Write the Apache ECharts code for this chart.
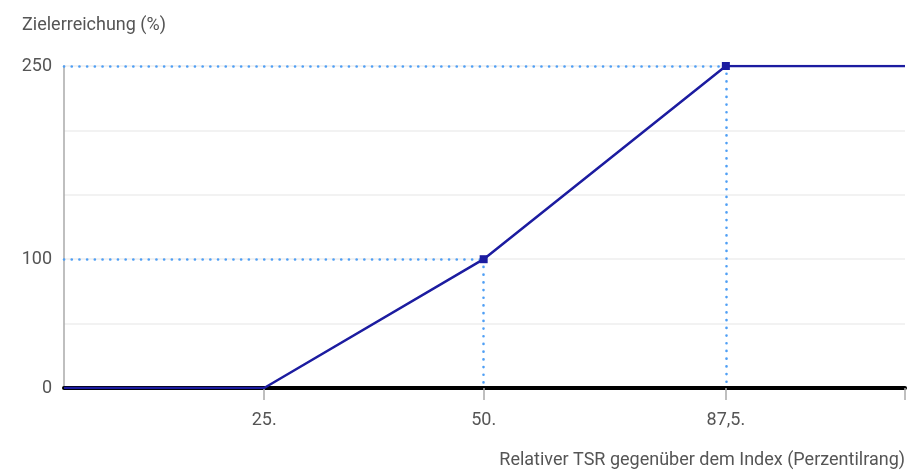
<!DOCTYPE html>
<html>
<head>
<meta charset="utf-8">
<script src="https://cdn.jsdelivr.net/npm/echarts@6/dist/echarts.min.js"></script>
<style>html,body{margin:0;padding:0;background:#fff}#c{width:914px;height:472px}</style>
</head>
<body>
<div id="c"></div>
<script>
// Schematic (non-linear) x positions of the curve's break points on the drawn axis (0..100)
const xPositions = [0, 23.8, 49.9, 78.7, 100];
// Percentile labels shown at those break points
const xTickLabels = ["", "25.", "50.", "87,5.", ""];
// Target achievement (%)
const yValues = [0, 0, 100, 250, 250];
// Which points carry a square marker
const markedPoints = [false, false, true, true, false];
const yTickLabels = [0, 100, 250];

const FONT = 'Roboto';
const lineColor = '#1c1ca0';
const dotColor = '#4f9ff5';

const seriesData = xPositions.map((x, i) => ({
  value: [x, yValues[i]],
  symbolSize: markedPoints[i] ? 8 : 0
}));

const guideLines = [];
xPositions.forEach((x, i) => {
  if (markedPoints[i]) {
    guideLines.push([{coord: [0, yValues[i]]}, {coord: [x, yValues[i]]}]);
    guideLines.push([{coord: [x, yValues[i]]}, {coord: [x, 0]}]);
  }
});

const labelPositions = xPositions.filter((x, i) => xTickLabels[i] !== "");
const tickPositions = xPositions.filter((x, i) => i > 0);

const chart = echarts.init(document.getElementById('c'), null, {renderer: 'canvas'});
chart.setOption({
  animation: false,
  title: {
    text: 'Zielerreichung (%)',
    left: 17, top: 11,
    textStyle: {fontFamily: FONT, fontSize: 18, fontWeight: 'normal', color: '#555'}
  },
  grid: {left: 64, right: 9, top: 66, bottom: 84},
  xAxis: {
    type: 'value', min: 0, max: 100,
    offset: 3,
    axisLine: {show: true, lineStyle: {color: '#000', width: 4}},
    axisTick: {show: true, customValues: tickPositions, length: 12, lineStyle: {color: '#aaa', width: 1.5}},
    axisLabel: {
      customValues: labelPositions,
      margin: 20,
      fontFamily: FONT, fontSize: 18, color: '#555',
      formatter: v => { const i = xPositions.indexOf(v); return i >= 0 ? xTickLabels[i] : ''; }
    },
    splitLine: {show: false},
    name: 'Relativer TSR gegenüber dem Index (Perzentilrang)',
    nameLocation: 'end', nameGap: 0,
    nameTextStyle: {fontFamily: FONT, fontSize: 18, color: '#555', align: 'right', verticalAlign: 'top', padding: [63, 0, 0, 0]}
  },
  yAxis: {
    type: 'value', min: 0, max: 250, interval: 50,
    axisLine: {show: true, lineStyle: {color: '#aaa', width: 1.5}},
    axisTick: {show: false},
    axisLabel: {customValues: yTickLabels, margin: 12, fontFamily: FONT, fontSize: 18, color: '#555'},
    splitLine: {show: true, lineStyle: {color: '#eeeeee', width: 1.5}}
  },
  series: [{
    type: 'line',
    data: seriesData,
    symbol: 'rect',
    showAllSymbol: true,
    lineStyle: {color: lineColor, width: 2.5},
    itemStyle: {color: lineColor},
    z: 5,
    markLine: {
      silent: true,
      symbol: ['none', 'none'],
      label: {show: false},
      lineStyle: {color: dotColor, type: [0.1, 7.6], width: 2.6, cap: 'round'},
      z: 3,
      data: guideLines
    }
  }]
});
</script>
</body>
</html>
